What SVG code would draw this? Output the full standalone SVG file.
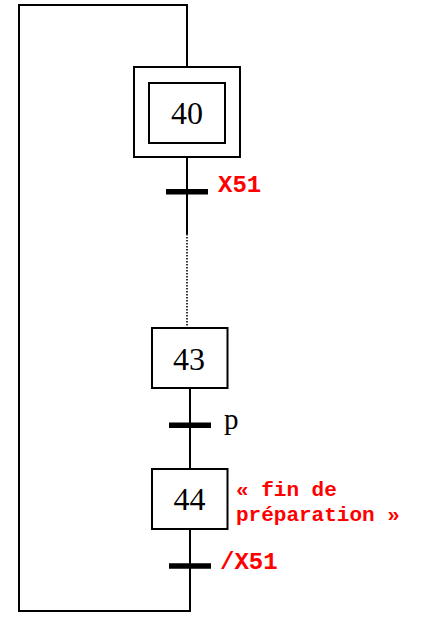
<svg xmlns="http://www.w3.org/2000/svg" width="421" height="617" viewBox="0 0 421 617">
<style>
.ln{fill:none;stroke:#000;stroke-width:2}
.box{fill:#fff;stroke:#000;stroke-width:2}
.bar{stroke:#000;stroke-width:5.5}
.num{font-family:"Liberation Serif",serif;font-size:32px;fill:#000;text-anchor:middle}
.cond{font-family:"Liberation Serif",serif;font-size:29px;fill:#000}
.red{font-family:"Liberation Mono",monospace;font-weight:bold;fill:#ff0000}
</style>
<rect width="421" height="617" fill="#fff"/>
<g id="connectors">
<polyline class="ln" points="187,67 187,5 19,5 19,611 190,611 190,529"/>
<line class="ln" x1="187" y1="157" x2="187" y2="234"/>
<line x1="187" y1="234" x2="187" y2="326" stroke="#000" stroke-width="1.6" stroke-dasharray="1.5 1.5"/>
<line class="ln" x1="190" y1="388" x2="190" y2="469"/>
</g>
<g id="step40">
<rect class="box" x="134" y="67" width="106" height="90"/>
<rect class="box" x="149" y="83" width="76" height="60"/>
<text class="num" x="187" y="123.5">40</text>
</g>
<g id="t40">
<line class="bar" x1="166" y1="191.7" x2="208" y2="191.7"/>
<text class="red" x="218" y="192" font-size="24">X51</text>
</g>
<g id="step43">
<rect class="box" x="152" y="328" width="75.5" height="60"/>
<text class="num" x="189" y="369.5">43</text>
</g>
<g id="t43">
<line class="bar" x1="169" y1="425.3" x2="211" y2="425.3"/>
<text class="cond" x="224" y="428.5">p</text>
</g>
<g id="step44">
<rect class="box" x="152" y="469" width="75.5" height="60"/>
<text class="num" x="189.5" y="510">44</text>
<text class="red" font-size="21"><tspan x="236" y="495.5">« fin de</tspan><tspan x="236" y="521">préparation »</tspan></text>
</g>
<g id="t44">
<line class="bar" x1="169" y1="566" x2="211" y2="566"/>
<text class="red" x="220" y="569" font-size="24">/X51</text>
</g>
</svg>
